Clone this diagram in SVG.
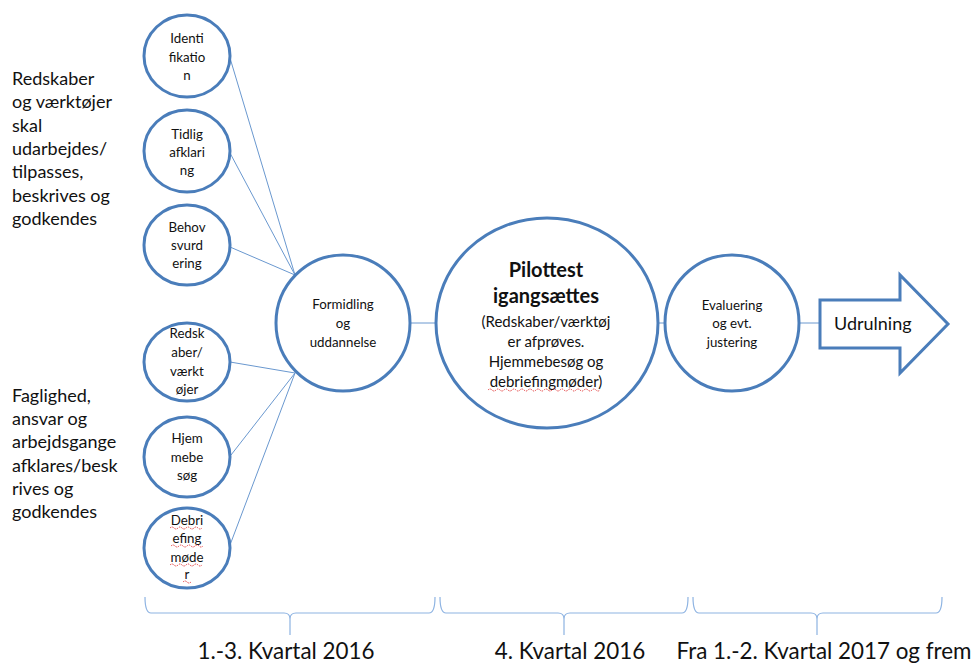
<svg xmlns="http://www.w3.org/2000/svg" width="976" height="666" viewBox="0 0 976 666">
<style>
.c{fill:#fff;stroke:#4a7dba;stroke-width:3}
.ln{stroke:#6a98cf;stroke-width:1;fill:none}
.br{stroke:#8db3e2;stroke-width:1.2;fill:none}
text{font-family:Lato,"Open Sans","Liberation Sans",sans-serif;fill:#111}
.s{font-size:13.3px;text-anchor:middle}
.l{font-size:18px}
.m{font-size:15px;text-anchor:middle}
.b{font-size:20px;font-weight:bold;text-anchor:middle}
.q{font-size:22.4px;text-anchor:middle}
.sq{stroke:#e03030;stroke-width:0.9;fill:none;stroke-dasharray:1.5 1}
</style>
<rect width="976" height="666" fill="#fff"/>
<g id="connectors">
<line class="ln" x1="230" y1="58" x2="295" y2="275"/>
<line class="ln" x1="230" y1="153" x2="295" y2="275"/>
<line class="ln" x1="230" y1="247" x2="295" y2="275"/>
<line class="ln" x1="230" y1="362" x2="295" y2="373"/>
<line class="ln" x1="231" y1="455" x2="295" y2="373"/>
<line class="ln" x1="230" y1="545" x2="295" y2="373"/>
<line class="ln" x1="410" y1="323" x2="436" y2="323"/>
<line class="ln" x1="658" y1="323" x2="665" y2="323"/>
<line class="ln" x1="800" y1="323" x2="820" y2="323"/>
</g>
<g id="n-identifikation">
<ellipse class="c" cx="187" cy="56" rx="43" ry="41"/>
<text class="s" x="187" y="43">Identi</text>
<text class="s" x="187" y="62">fikatio</text>
<text class="s" x="187" y="80">n</text>
</g>
<g id="n-tidlig">
<ellipse class="c" cx="187" cy="151" rx="43" ry="41"/>
<text class="s" x="187" y="139">Tidlig</text>
<text class="s" x="187" y="157">afklari</text>
<text class="s" x="187" y="175">ng</text>
</g>
<g id="n-behov">
<ellipse class="c" cx="187" cy="245" rx="43" ry="40"/>
<text class="s" x="187" y="232">Behov</text>
<text class="s" x="187" y="250">svurd</text>
<text class="s" x="187" y="268">ering</text>
</g>
<g id="n-redskaber">
<ellipse class="c" cx="187" cy="362" rx="43" ry="39"/>
<text class="s" x="187" y="338">Redsk</text>
<text class="s" x="187" y="357">aber/</text>
<text class="s" x="187" y="376">værkt</text>
<text class="s" x="187" y="394">øjer</text>
</g>
<g id="n-hjemmebesog">
<ellipse class="c" cx="187" cy="457" rx="43" ry="40"/>
<text class="s" x="187" y="443">Hjem</text>
<text class="s" x="187" y="462">mebe</text>
<text class="s" x="187" y="480">søg</text>
</g>
<g id="n-debriefing">
<ellipse class="c" cx="187" cy="548" rx="43" ry="40"/>
<text class="s" x="187" y="525">Debri</text>
<text class="s" x="187" y="543">efing</text>
<text class="s" x="187" y="562">møde</text>
<text class="s" x="187" y="579">r</text>
<path class="sq" d="M170 528 q2 -2 4 0 t4 0 t4 0 t4 0 t4 0 t4 0 t4 0 t4 0"/>
<path class="sq" d="M171 546 q2 -2 4 0 t4 0 t4 0 t4 0 t4 0 t4 0 t4 0 t4 0"/>
<path class="sq" d="M170 565 q2 -2 4 0 t4 0 t4 0 t4 0 t4 0 t4 0 t4 0 t4 0"/>
<path class="sq" d="M183 582 q2 -2 4 0 t4 0"/>
</g>
<g id="n-formidling">
<ellipse class="c" cx="343" cy="323" rx="67" ry="68"/>
<text class="s" x="343" y="309">Formidling</text>
<text class="s" x="343" y="328">og</text>
<text class="s" x="343" y="347">uddannelse</text>
</g>
<g id="n-pilottest">
<ellipse class="c" cx="547" cy="323" rx="111" ry="105"/>
<text class="b" x="546" y="277">Pilottest</text>
<text class="b" x="546" y="303">igangsættes</text>
<text class="m" x="546" y="327">(Redskaber/værktøj</text>
<text class="m" x="546" y="347">er afprøves.</text>
<text class="m" x="546" y="367">Hjemmebesøg og</text>
<text class="m" x="546" y="387">debriefingmøder)</text>
<path class="sq" d="M488 390 q2 -2 4 0 t4 0 t4 0 t4 0 t4 0 t4 0 t4 0 t4 0 t4 0 t4 0 t4 0 t4 0 t4 0 t4 0 t4 0 t4 0 t4 0 t4 0 t4 0 t4 0 t4 0 t4 0 t4 0 t4 0 t4 0 t4 0 t4 0 t4 0"/>
</g>
<g id="n-evaluering">
<ellipse class="c" cx="732" cy="323" rx="67" ry="68"/>
<text class="s" x="732" y="310">Evaluering</text>
<text class="s" x="732" y="328">og evt.</text>
<text class="s" x="732" y="347">justering</text>
</g>
<g id="n-udrulning">
<path class="c" d="M820 300 H900 V275 L948 324 L900 373 V348 H820 Z"/>
<text x="834" y="330" style="font-size:18px">Udrulning</text>
</g>
<g id="left-texts">
<text class="l" x="12" y="85">Redskaber</text>
<text class="l" x="12" y="108">og værktøjer</text>
<text class="l" x="12" y="132">skal</text>
<text class="l" x="12" y="155">udarbejdes/</text>
<text class="l" x="12" y="178">tilpasses,</text>
<text class="l" x="12" y="202">beskrives og</text>
<text class="l" x="12" y="225">godkendes</text>
<text class="l" x="12" y="402">Faglighed,</text>
<text class="l" x="12" y="425">ansvar og</text>
<text class="l" x="12" y="448">arbejdsgange</text>
<text class="l" x="12" y="472">afklares/besk</text>
<text class="l" x="12" y="495">rives og</text>
<text class="l" x="12" y="518">godkendes</text>
</g>
<g id="timeline">
<path class="br" d="M145 597 Q145 613 151 613 H284 Q290 613 290 619 V635 M290 619 Q290 613 296 613 H429 Q435 613 435 597"/>
<path class="br" d="M440 597 Q440 613 446 613 H558 Q564 613 564 619 V635 M564 619 Q564 613 570 613 H682 Q688 613 688 597"/>
<path class="br" d="M693 597 Q693 613 699 613 H811 Q817 613 817 619 V635 M817 619 Q817 613 823 613 H936 Q942 613 942 597"/>
<text class="q" x="286" y="659">1.-3. Kvartal 2016</text>
<text class="q" x="570" y="659">4. Kvartal 2016</text>
<text class="q" x="824" y="659">Fra 1.-2. Kvartal 2017 og frem</text>
</g>
</svg>
